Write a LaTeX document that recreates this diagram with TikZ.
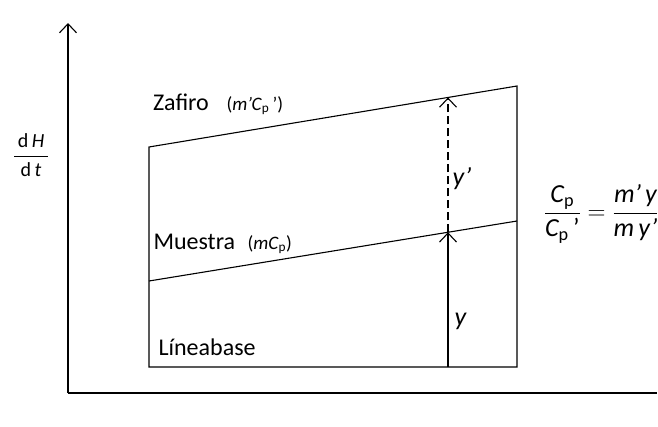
\documentclass[tikz,border=0pt]{standalone}
\usepackage{amsmath}
\usepackage{fontspec}
\setmainfont{Carlito}
\usetikzlibrary{arrows.meta,calc}

\begin{document}
\begin{tikzpicture}[x=1pt,y=-1pt,line width=1.1pt,
  barb/.style={-{Straight Barb[length=9pt,width=17pt,line width=1.1pt]}},
  lbl/.style={inner sep=0,anchor=base west,font=\fontsize{24}{29}\selectfont},
  sml/.style={inner sep=0,anchor=base west,font=\fontsize{19}{23}\selectfont},
  dashline/.style={dash pattern=on 8pt off 4pt}]
\useasboundingbox (0,0) rectangle (658,426);

% axes
\coordinate (O) at (68,393);
\coordinate (Ytop) at (68,23);
\coordinate (Xend) at (657,393);
\draw[barb] (O) -- (Ytop);
\draw (O) -- (Xend);

% frame: baseline, sample and sapphire lines
\coordinate (bl) at (149,367);
\coordinate (br) at (517,367);
\coordinate (ml) at (149,281);
\coordinate (mr) at (517,221);
\coordinate (tl) at (149,147);
\coordinate (tr) at (517,86);
\draw (tl) -- (bl) -- (br) -- (tr) -- cycle;
\draw (ml) -- (mr);

% heights y and y'
\coordinate (b) at (448,367);
\coordinate (m) at ($(ml)!0.8125!(mr)$);
\coordinate (t) at ($(tl)!0.8125!(tr)$);
\draw[barb] (b) -- (m);
\draw[barb,dashline] (m) -- (t);

% labels
\node[lbl] (zaf) at (152.5,110) {Zafiro};
\node[sml] (zafcp) at (226,110) {(\textit{m'C}\textsubscript{p}\,')};
\node[lbl] (mue) at (153,249) {Muestra};
\node[sml] (muecp) at (247,249) {(\textit{mC}\textsubscript{p})};
\node[lbl] (lin) at (158,355) {Líneabase};
\node[lbl,font=\fontsize{26}{30}\selectfont] (yp) at (452,185) {\textit{y'}};
\node[lbl,font=\fontsize{26}{30}\selectfont] (y) at (454,325) {\textit{y}};

% axis label and ratio
\node[inner sep=0,anchor=base,font=\fontsize{20}{24}\selectfont] (dhdt) at (31,162)
  {$\dfrac{\,\text{d}\,\textit{H}\,}{\,\text{d}\,\textit{t}\,}$};
\node[inner sep=0,anchor=base east,font=\fontsize{26}{31}\selectfont] (ratio) at (659,219.5)
  {$\dfrac{\textit{C}_{\text{p}}}{\textit{C}_{\text{p}}\text{\,'}}=\dfrac{\textit{m'}\,\textit{y}}{\textit{m}\,\textit{y'}}$};
\end{tikzpicture}
\end{document}
